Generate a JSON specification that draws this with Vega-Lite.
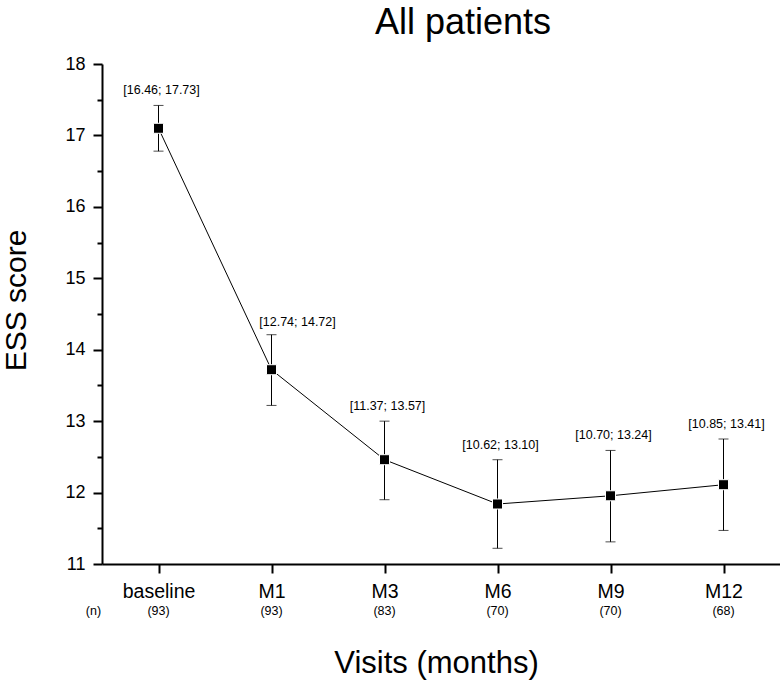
{
  "$schema": "https://vega.github.io/schema/vega-lite/v6.json",
  "width": 678,
  "height": 500,
  "autosize": {"type": "none"},
  "padding": {"left": 102, "top": 64, "right": 0, "bottom": 118},
  "background": "white",
  "config": {
    "font": "Liberation Sans",
    "view": {"stroke": null},
    "axis": {
      "grid": false,
      "domainColor": "black",
      "tickColor": "black",
      "labelColor": "black",
      "titleColor": "black",
      "titleFontWeight": "normal",
      "titleFont": "Liberation Sans",
      "labelFont": "Liberation Sans",
      "domainWidth": 2,
      "tickWidth": 2
    }
  },
  "title": {
    "text": "All patients",
    "fontSize": 36,
    "fontWeight": "normal",
    "font": "Liberation Sans",
    "anchor": "middle",
    "dx": 22,
    "offset": 13,
    "color": "black"
  },
  "data": {
    "values": [
      {"visit": "baseline", "mean": 17.10, "lo": 16.78, "hi": 17.42, "ci": "[16.46; 17.73]", "n": "(93)"},
      {"visit": "M1", "mean": 13.72, "lo": 13.22, "hi": 14.21, "ci": "[12.74; 14.72]", "n": "(93)"},
      {"visit": "M3", "mean": 12.46, "lo": 11.90, "hi": 13.00, "ci": "[11.37; 13.57]", "n": "(83)"},
      {"visit": "M6", "mean": 11.84, "lo": 11.22, "hi": 12.46, "ci": "[10.62; 13.10]", "n": "(70)"},
      {"visit": "M9", "mean": 11.955, "lo": 11.31, "hi": 12.59, "ci": "[10.70; 13.24]", "n": "(70)"},
      {"visit": "M12", "mean": 12.11, "lo": 11.47, "hi": 12.75, "ci": "[10.85; 13.41]", "n": "(68)"}
    ]
  },
  "resolve": {"axis": {"y": "independent"}},
  "encoding": {
    "x": {
      "field": "visit",
      "type": "ordinal",
      "sort": null,
      "scale": {"type": "point", "padding": 0.5},
      "axis": {
        "title": "Visits (months)",
        "titleFontSize": 31,
        "titleX": 334,
        "titleY": 108,
        "titleBaseline": "alphabetic",
        "labelAngle": 0,
        "labelFontSize": 19.5,
        "labelPadding": 9,
        "tickSize": 9
      }
    }
  },
  "layer": [
    {
      "mark": {"type": "rule", "color": "black", "strokeWidth": 1},
      "encoding": {
        "y": {
          "field": "lo",
          "type": "quantitative",
          "scale": {"domain": [11, 18], "nice": false, "zero": false},
          "axis": {
            "orient": "left",
            "title": "ESS score",
            "titleFontSize": 30,
            "titleX": -77,
            "titleY": 236,
            "titleBaseline": "alphabetic",
            "values": [11, 12, 13, 14, 15, 16, 17, 18],
            "labelFontSize": 18,
            "labelPadding": 8,
            "tickSize": 9
          }
        },
        "y2": {"field": "hi"}
      }
    },
    {
      "mark": {"type": "tick", "color": "black", "thickness": 1, "size": 10},
      "encoding": {
        "y": {
          "field": "lo",
          "type": "quantitative",
          "axis": {
            "orient": "left",
            "title": null,
            "values": [11.5, 12.5, 13.5, 14.5, 15.5, 16.5, 17.5],
            "labels": false,
            "domain": false,
            "tickSize": 5
          }
        }
      }
    },
    {
      "mark": {"type": "tick", "color": "black", "thickness": 1, "size": 10},
      "encoding": {"y": {"field": "hi", "type": "quantitative", "axis": null}}
    },
    {
      "mark": {"type": "line", "color": "black", "strokeWidth": 1},
      "encoding": {"y": {"field": "mean", "type": "quantitative", "axis": null}}
    },
    {
      "mark": {"type": "point", "shape": "square", "filled": true, "color": "black", "size": 100, "opacity": 1, "stroke": "white", "strokeWidth": 1},
      "encoding": {"y": {"field": "mean", "type": "quantitative", "axis": null}}
    },
    {
      "transform": [{"filter": "datum.visit !== 'M1'"}],
      "mark": {"type": "text", "fontSize": 12.5, "color": "black", "baseline": "alphabetic", "dy": -11, "dx": 3},
      "encoding": {
        "y": {"field": "hi", "type": "quantitative", "axis": null},
        "text": {"field": "ci"}
      }
    },
    {
      "transform": [{"filter": "datum.visit === 'M1'"}],
      "mark": {"type": "text", "fontSize": 12.5, "color": "black", "baseline": "alphabetic", "dy": -9, "dx": 26},
      "encoding": {
        "y": {"field": "hi", "type": "quantitative", "axis": null},
        "text": {"field": "ci"}
      }
    },
    {
      "mark": {"type": "text", "fontSize": 12.5, "color": "black", "baseline": "middle"},
      "encoding": {
        "y": {"datum": 10.34, "type": "quantitative", "axis": null},
        "text": {"field": "n"}
      }
    },
    {
      "data": {"values": [{"label": "(n)", "visit": "baseline"}]},
      "mark": {"type": "text", "fontSize": 12.5, "color": "black", "baseline": "middle", "dx": -65},
      "encoding": {
        "y": {"datum": 10.34, "type": "quantitative", "axis": null},
        "text": {"field": "label"}
      }
    }
  ]
}
